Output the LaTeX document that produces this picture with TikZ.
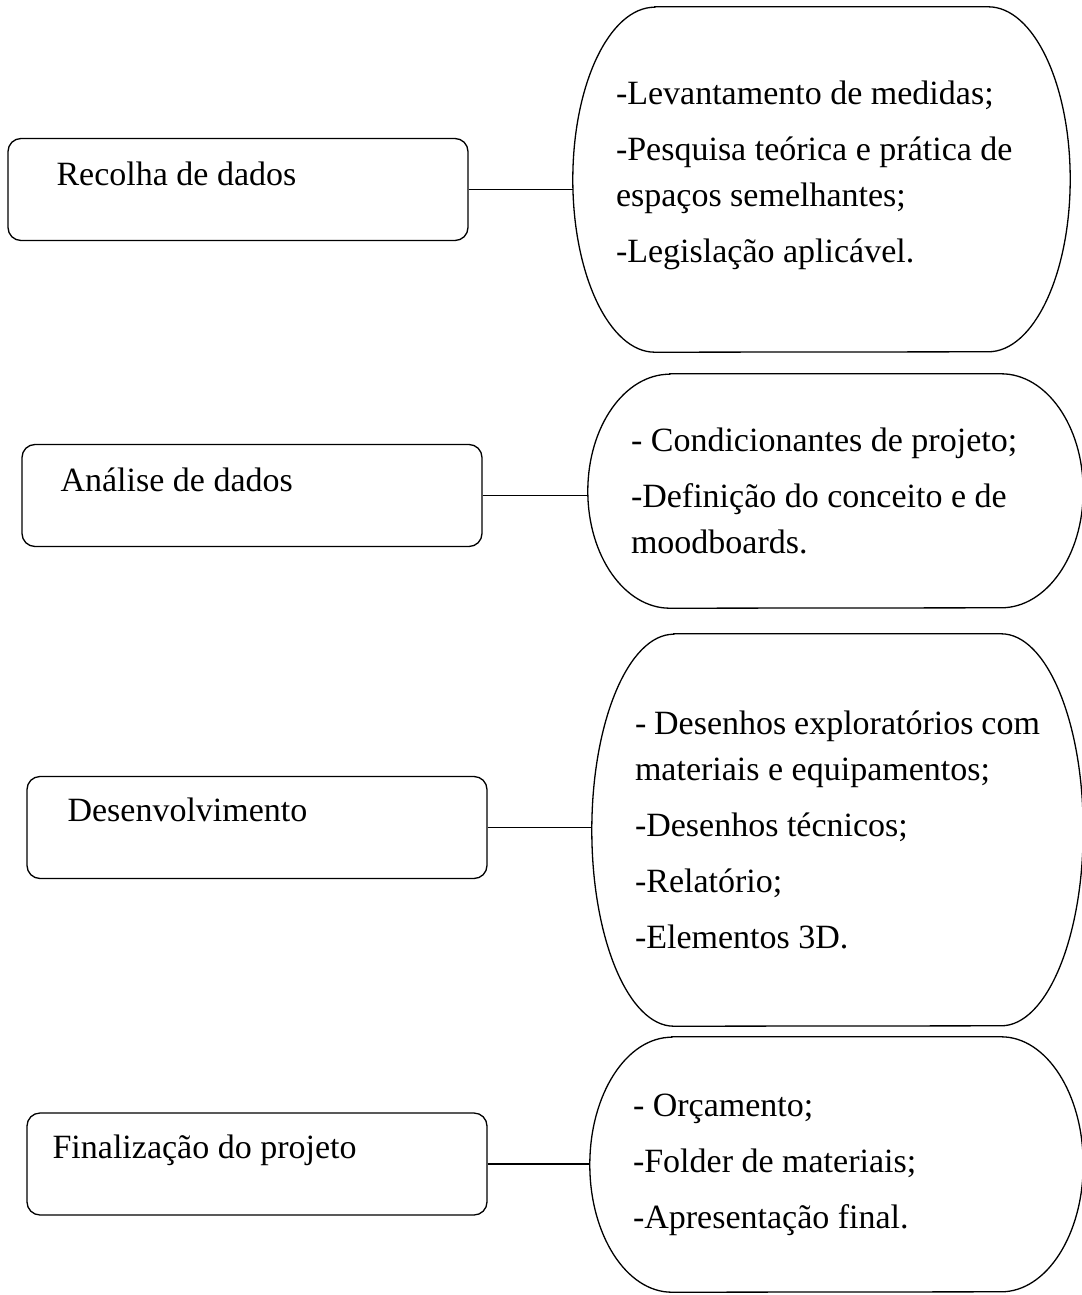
\documentclass[tikz,border=0pt]{standalone}
\usepackage{fontspec}
\setmainfont{Liberation Serif}
\usetikzlibrary{positioning}

\tikzset{
  stage/.style={draw, rounded corners=13pt, line width=1.3pt, minimum width=460pt, minimum height=102pt, inner sep=0pt},
  detail/.style={inner xsep=43pt, inner ysep=0pt, align=flush left},
  outline/.style={line width=1.3pt},
  link/.style={line width=1.3pt}
}

\begin{document}
\begin{tikzpicture}[x=1pt, y=-1pt, font=\fontsize{34}{46}\selectfont]
    \useasboundingbox (0,0) rectangle (1081,1295);

    % etapas (esquerda)
    \foreach [count=\i] \x/\y/\dx/\dy/\txt in {238/189.5/49/48/Recolha de dados, 252/495.5/39/48/Análise de dados, 257/827.5/41/46/Desenvolvimento, 257/1164/26/46/Finalização do projeto} {
      \node[stage] (s\i) at (\x, \y) {};
      \node[anchor=base west, inner sep=0pt] (t\i) at ([xshift=\dx pt, yshift=-\dy pt]s\i.north west) {\txt};
    }

    % descricoes (direita)
    \node[detail, minimum width=497pt, minimum height=345pt, text width=411pt] (d1) at (821.5, 179.5)
      {-Levantamento de medidas;\\[10pt] -Pesquisa teórica e prática de\\ espaços semelhantes;\\[10pt] -Legislação aplicável.\\[-30pt]\mbox{}};
    \node[detail, minimum width=495pt, minimum height=234pt, text width=409pt] (d2) at (835.5, 491)
      {- Condicionantes de projeto;\\[10pt] -Definição do conceito e de\\ moodboards.};
    \node[detail, minimum width=491pt, minimum height=392pt, text width=405pt] (d3) at (837.5, 830)
      {- Desenhos exploratórios com\\ materiais e equipamentos;\\[10pt] -Desenhos técnicos;\\[10pt] -Relatório;\\[10pt] -Elementos 3D.};
    \node[detail, minimum width=493pt, minimum height=255pt, text width=407pt] (d4) at (836.5, 1164.5)
      {- Orçamento;\\[10pt] -Folder de materiais;\\[10pt] -Apresentação final.};

    \foreach \s/\h in {d1/172.5, d2/117, d3/196, d4/127.5} {
      \draw[outline] ([xshift=82pt]\s.north west) -- ([xshift=-82pt]\s.north east)
        arc[start angle=90, end angle=-90, x radius=82pt, y radius=\h pt]
        -- ([xshift=82pt]\s.south west)
        arc[start angle=270, end angle=90, x radius=82pt, y radius=\h pt] -- cycle;
    }

    \foreach \i in {1,...,4}
      \draw[link] (s\i.east) -- (s\i.east -| d\i.west);
\end{tikzpicture}
\end{document}
